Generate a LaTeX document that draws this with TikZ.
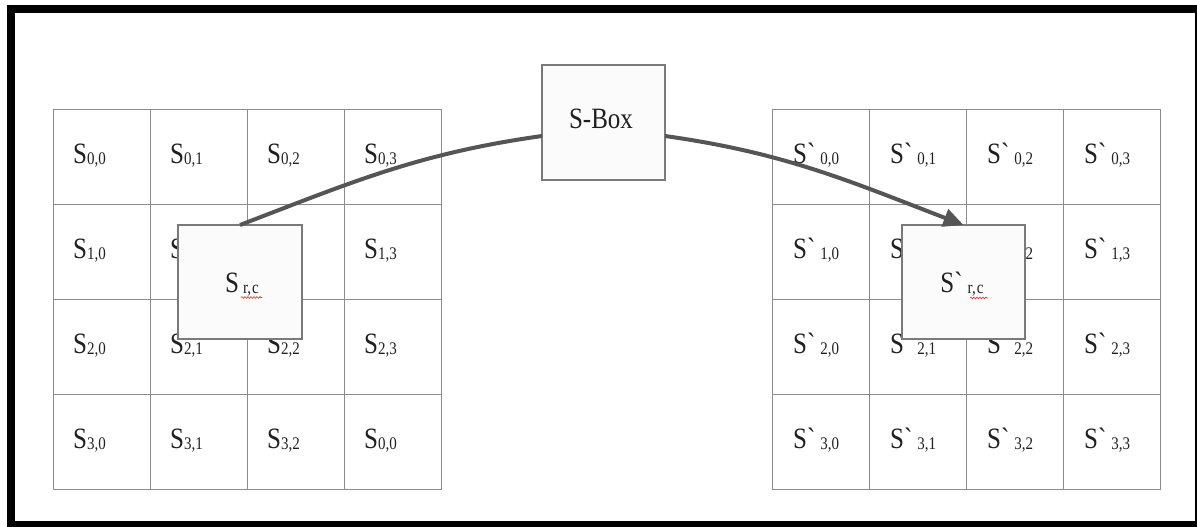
\documentclass[tikz,border=0pt]{standalone}
\usepackage{fontspec}
\setmainfont{Liberation Serif}
\usepackage{graphicx}
\usetikzlibrary{arrows.meta,decorations.pathmorphing}

\definecolor{gridgray}{HTML}{8C8C8C}
\definecolor{boxgray}{HTML}{7A7A7A}
\definecolor{boxfill}{HTML}{FBFBFB}
\definecolor{arrowgray}{HTML}{555555}
\definecolor{spellred}{HTML}{E03030}
\definecolor{inkgray}{HTML}{202020}

% slightly tall serif lettering and lowered subscripts
\newcommand\stx[1]{\scalebox{1}[1.18]{#1}}
\newcommand\sbs[1]{\raisebox{-1.5pt}{\fontsize{15}{15}\selectfont #1}}
\newcommand\sgr{S\textasciigrave}

\begin{document}
\begin{tikzpicture}[x=1pt,y=-1pt,
  cell/.style={draw=gridgray,line width=1pt,minimum width=97pt,minimum height=95pt,inner sep=0pt,outer sep=0pt},
  celltext/.style={anchor=base west,inner sep=0pt,text=inkgray,font=\fontsize{25}{30}\selectfont},
  floatbox/.style={draw=boxgray,fill=boxfill,line width=1.3pt,inner sep=0pt,outer sep=0pt},
  conn/.style={draw=arrowgray,line width=4pt},
  squiggle/.style={spellred,line width=0.6pt,decorate,decoration={snake,amplitude=0.9pt,segment length=3pt}}]

\useasboundingbox (0,0) rectangle (1197,527);

% page frame
\fill[black] (7,5) rectangle (1197,527);
\fill[white] (15,13) rectangle (1194.5,521);

% state matrix S (left)
\foreach \r in {0,...,3}{
  \foreach \c in {0,...,3}{
    \node[cell] (L\r\c) at (101.5+97*\c,156.5+95*\r) {};
    \node[celltext] (tL\r\c) at ([xshift=20pt,yshift=-6.5pt]L\r\c.west)
      {\stx{S\sbs{\ifnum\r\c=33 0,0\else\r,\c\fi}}};
  }
}

% substituted matrix S' (right)
\foreach \r in {0,...,3}{
  \foreach \c in {0,...,3}{
    \node[cell] (R\r\c) at (820.5+97*\c,156.5+95*\r) {};
    \node[celltext] (tR\r\c) at ([xshift=21pt,yshift=-6.5pt]R\r\c.west)
      {\stx{\sgr\hspace{5pt}\sbs{\r,\c}}};
  }
}

% single byte boxes
\node[floatbox,minimum width=124pt,minimum height=114pt] (lrc) at (240,282) {};
\node[celltext,anchor=base] (lrclbl) at (242,292) {\stx{S\hspace{4pt}\sbs{r,\hspace{1pt}c}}};
\draw[squiggle] (241,297.5) -- (262,297.5);

\node[floatbox,minimum width=123pt,minimum height=114pt] (rrc) at (963.5,282) {};
\node[celltext,anchor=base] (rrclbl) at (962,292) {\stx{\sgr\hspace{5pt}\sbs{r,\hspace{1pt}c}}};
\draw[squiggle] (970,298) -- (988,298);

% S-Box
\node[floatbox,minimum width=123pt,minimum height=115pt] (sbox) at (603.5,122.5) {};
\node[celltext,anchor=center] (sboxlbl) at (601,119) {\stx{S-Box}};

% substitution path
\draw[conn] (lrc.north) to[out=21,in=188] ([yshift=-13.5pt]sbox.west);
\draw[conn,-{Triangle[length=20pt,width=18pt]}] ([yshift=-13.5pt]sbox.east) to[out=-8,in=159] (rrc.north);

\end{tikzpicture}
\end{document}
